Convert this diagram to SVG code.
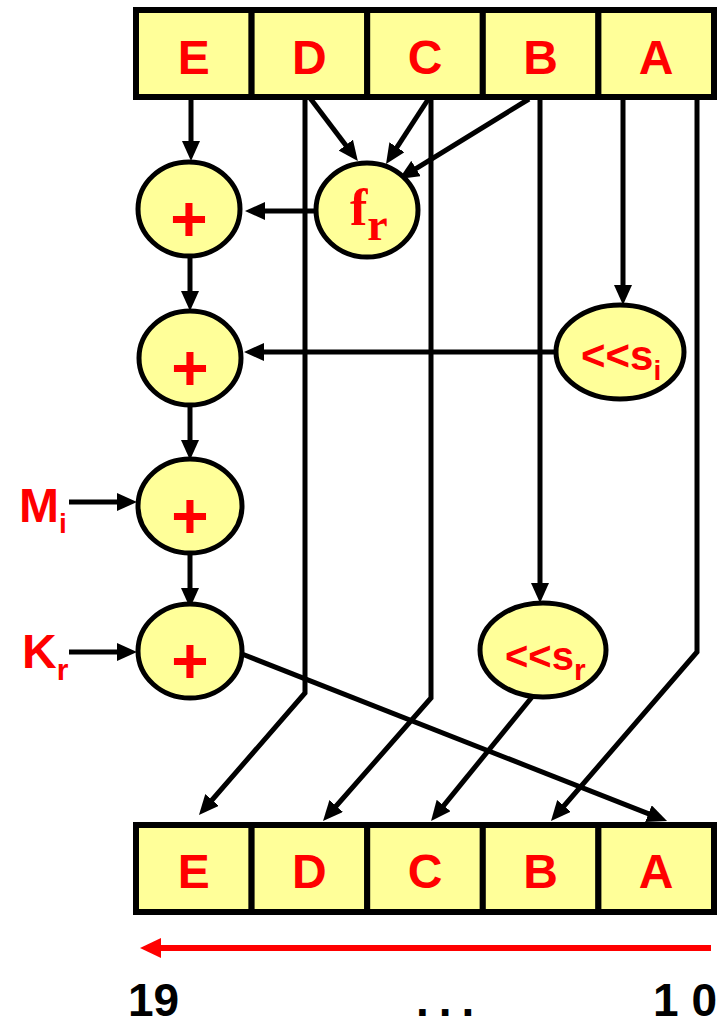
<svg xmlns="http://www.w3.org/2000/svg" width="726" height="1020" viewBox="0 0 726 1020">
<style>
.box{fill:#FFFF99;stroke:#000;stroke-width:6}
.nd{fill:#FFFF99;stroke:#000;stroke-width:5}
.lt{font-family:"Liberation Sans",Arial,sans-serif;font-weight:bold;fill:#FF0000;text-anchor:middle}
.lb{font-family:"Liberation Sans",Arial,sans-serif;font-weight:bold;fill:#FF0000}
.num{font-family:"Liberation Sans",Arial,sans-serif;font-weight:bold;fill:#000}
.ln{fill:none;stroke:#000;stroke-width:5}
</style>
<defs>
<marker id="ah" viewBox="0 0 20 18" markerWidth="20" markerHeight="18" refX="12" refY="9" markerUnits="userSpaceOnUse" orient="auto">
<path d="M0,0 L20,9 L0,18 z" fill="#000"/>
</marker>
<marker id="rh" viewBox="0 0 21 20" markerWidth="21" markerHeight="20" refX="13" refY="10" markerUnits="userSpaceOnUse" orient="auto">
<path d="M0,0 L21,10 L0,20 z" fill="#FF0000"/>
</marker>
</defs>

<g id="connectors">
<path class="ln" d="M191,97 V153" marker-end="url(#ah)"/>
<path class="ln" d="M310,98 L353,154.7" marker-end="url(#ah)"/>
<path class="ln" d="M429,98 L390.4,157.3" marker-end="url(#ah)"/>
<path class="ln" d="M529,99 L405.8,174.8" marker-end="url(#ah)"/>
<path class="ln" d="M316,211 H253" marker-end="url(#ah)"/>
<path class="ln" d="M190,256 V303" marker-end="url(#ah)"/>
<path class="ln" d="M623,97 V297" marker-end="url(#ah)"/>
<path class="ln" d="M557,352 H252" marker-end="url(#ah)"/>
<path class="ln" d="M190,404 V452" marker-end="url(#ah)"/>
<path class="ln" d="M69,502 H129" marker-end="url(#ah)"/>
<path class="ln" d="M190,552 V600" marker-end="url(#ah)"/>
<path class="ln" d="M69,652 H129" marker-end="url(#ah)"/>
<path class="ln" d="M540,97 V595" marker-end="url(#ah)"/>
<path class="ln" d="M305,97 V693 L204.2,809" marker-end="url(#ah)"/>
<path class="ln" d="M431,97 V698 L328.3,815" marker-end="url(#ah)"/>
<path class="ln" d="M532,697 L436.1,814.8" marker-end="url(#ah)"/>
<path class="ln" d="M697,97 V652 L556.2,815" marker-end="url(#ah)"/>
<path class="ln" d="M242,654 L659.6,818.1" marker-end="url(#ah)"/>
<path d="M711,948 H148" fill="none" stroke="#FF0000" stroke-width="6" marker-end="url(#rh)"/>
</g>

<g id="top-register">
<rect class="box" x="136" y="10" width="115.6" height="87"/>
<rect class="box" x="251.6" y="10" width="115.6" height="87"/>
<rect class="box" x="367.2" y="10" width="115.6" height="87"/>
<rect class="box" x="482.8" y="10" width="115.6" height="87"/>
<rect class="box" x="598.4" y="10" width="115.6" height="87"/>
<text class="lt" x="193.8" y="74" font-size="48">E</text>
<text class="lt" x="309.4" y="74" font-size="48">D</text>
<text class="lt" x="425" y="74" font-size="48">C</text>
<text class="lt" x="540.6" y="74" font-size="48">B</text>
<text class="lt" x="656.2" y="74" font-size="48">A</text>
</g>

<g id="bottom-register">
<rect class="box" x="136" y="825" width="115.6" height="87"/>
<rect class="box" x="251.6" y="825" width="115.6" height="87"/>
<rect class="box" x="367.2" y="825" width="115.6" height="87"/>
<rect class="box" x="482.8" y="825" width="115.6" height="87"/>
<rect class="box" x="598.4" y="825" width="115.6" height="87"/>
<text class="lt" x="193.8" y="888" font-size="48">E</text>
<text class="lt" x="309.4" y="888" font-size="48">D</text>
<text class="lt" x="425" y="888" font-size="48">C</text>
<text class="lt" x="540.6" y="888" font-size="48">B</text>
<text class="lt" x="656.2" y="888" font-size="48">A</text>
</g>

<g id="add1">
<ellipse class="nd" cx="189" cy="209" rx="51" ry="47"/>
<text class="lt" x="189" y="241" font-size="64">+</text>
</g>
<g id="fr">
<ellipse class="nd" cx="367" cy="210" rx="51" ry="47"/>
<text x="350" y="225" font-family="'Liberation Serif','Times New Roman',serif" font-weight="bold" fill="#FF0000" font-size="52">f<tspan font-size="46" dy="15">r</tspan></text>
</g>
<g id="add2">
<ellipse class="nd" cx="190" cy="358" rx="51" ry="47"/>
<text class="lt" x="190" y="390" font-size="64">+</text>
</g>
<g id="shift-si">
<ellipse class="nd" cx="620" cy="352" rx="64" ry="47"/>
<text class="lb" x="581" y="370" font-size="42">&lt;&lt;s<tspan font-size="28" dy="10">i</tspan></text>
</g>
<g id="add3">
<ellipse class="nd" cx="190" cy="506" rx="52" ry="47"/>
<text class="lt" x="190" y="538" font-size="64">+</text>
</g>
<g id="Mi">
<text class="lb" x="19" y="522" font-size="48">M<tspan font-size="28" dy="11">i</tspan></text>
</g>
<g id="add4">
<ellipse class="nd" cx="190" cy="651" rx="52" ry="47"/>
<text class="lt" x="190" y="683" font-size="64">+</text>
</g>
<g id="Kr">
<text class="lb" x="22" y="668" font-size="48">K<tspan font-size="30" dy="12">r</tspan></text>
</g>
<g id="shift-sr">
<ellipse class="nd" cx="543" cy="650" rx="63" ry="47"/>
<text class="lb" x="505" y="670" font-size="40">&lt;&lt;s<tspan font-size="30" dy="10">r</tspan></text>
</g>

<g id="scale">
<text class="num" x="128" y="1016" font-size="46">19</text>
<text class="num" x="416" y="1016" font-size="46" letter-spacing="10">...</text>
<text class="num" x="717" y="1016" font-size="46" text-anchor="end">1 0</text>
</g>
</svg>
